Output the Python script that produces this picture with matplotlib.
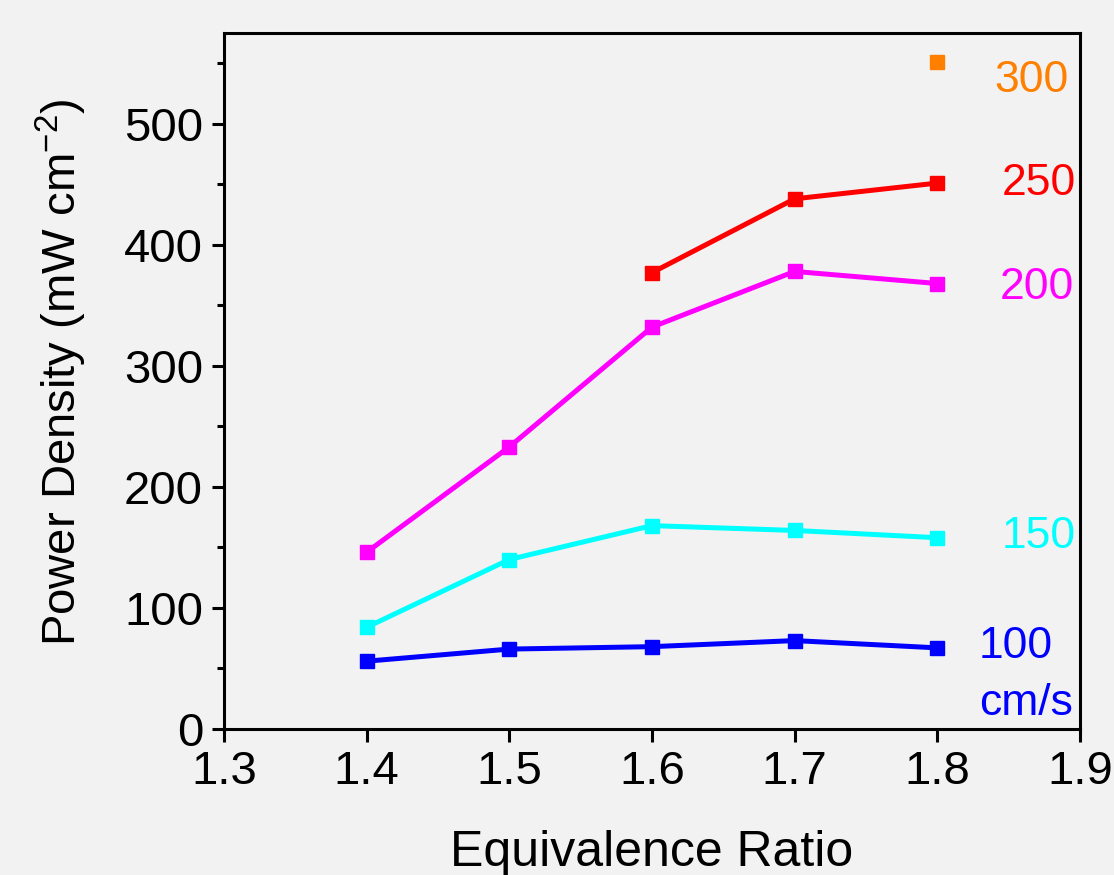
import matplotlib
matplotlib.use('Agg')
import matplotlib.pyplot as plt
from matplotlib.ticker import MultipleLocator

# data: power density vs equivalence ratio per flow velocity
phi = [1.4, 1.5, 1.6, 1.7, 1.8]
v100 = [56, 66, 68, 73, 67]
v150 = [84, 140, 168, 164, 158]
v200 = [146, 233, 332, 378, 368]
phi_250 = [1.6, 1.7, 1.8]
v250 = [377, 438, 451]
phi_300 = [1.8]
v300 = [551]

labels = ['100', '150', '200', '250', '300']
colors = ['#0000FF', '#00FFFF', '#FF00FF', '#FF0000', '#FF8000']

BG = '#F2F2F2'
TICK_FS = 34
XLABEL_FS = 36
YLABEL_FS = 34
SERIES_FS = 32

plt.rcParams.update({
    'font.family': ['Liberation Sans', 'DejaVu Sans'],
    'figure.facecolor': BG,
    'axes.facecolor': BG,
    'axes.linewidth': 2.2,
    'xtick.major.width': 2.2,
    'ytick.major.width': 2.2,
    'ytick.minor.width': 2.2,
    'xtick.major.size': 9,
    'ytick.major.size': 9,
    'ytick.minor.size': 5,
    'xtick.direction': 'out',
    'ytick.direction': 'out',
})

fig = plt.figure(figsize=(11.14, 8.75), dpi=100)
ax = fig.add_axes([0.201, 0.1669, 0.7685, 0.7954])

series = [(phi, v100), (phi, v150), (phi, v200), (phi_250, v250), (phi_300, v300)]
for (xs, ys), c in zip(series, colors):
    ax.plot(xs, ys, '-s', color=c, lw=3.6, ms=10, mec=c)

# series labels on the right side
label_pos = [(1.829, 68), (1.845, 159), (1.844, 365), (1.845, 451), (1.840, 536)]
for (tx, ty), lab, c in zip(label_pos, labels, colors):
    ax.text(tx, ty, lab, color=c, ha='left', va='center', fontsize=SERIES_FS)
ax.text(1.829, 21, 'cm/s', color=colors[0], ha='left', va='center', fontsize=SERIES_FS)

ax.set_xlim(1.3, 1.9)
ax.set_ylim(0, 575)
ax.set_xticks([1.3, 1.4, 1.5, 1.6, 1.7, 1.8, 1.9])
ax.set_xticklabels(['1.3', '1.4', '1.5', '1.6', '1.7', '1.8', '1.9'])
ax.yaxis.set_major_locator(MultipleLocator(100))
ax.yaxis.set_minor_locator(MultipleLocator(50))
ax.tick_params(axis='both', labelsize=TICK_FS, pad=6)

ax.set_xlabel('Equivalence Ratio', fontsize=XLABEL_FS, labelpad=26)
ax.set_ylabel('Power Density (mW cm$^{\\mathregular{-2}}$)', fontsize=YLABEL_FS)
ax.yaxis.set_label_coords(-0.158, 0.513)

fig.savefig('out.png', dpi=100, facecolor=BG)
